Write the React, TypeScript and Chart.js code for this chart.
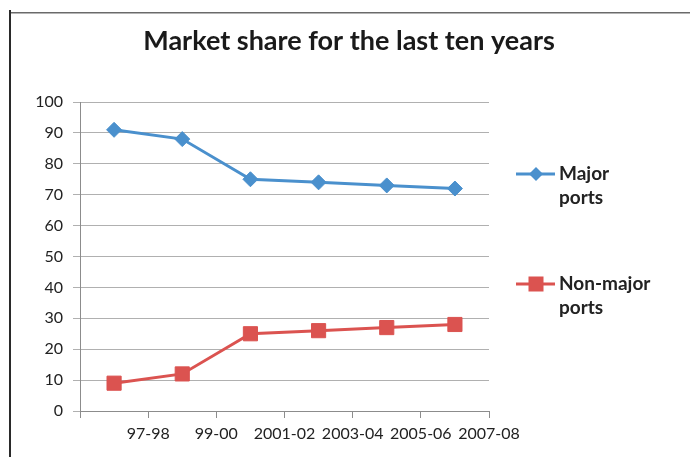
import { useEffect, useRef } from 'react';
import { Chart, registerables } from 'chart.js';

Chart.register(...registerables);

const chartTitle = 'Market share for the last ten years';
const periods = ['97-98', '99-00', '2001-02', '2003-04', '2005-06', '2007-08'];
const majorPorts = [91, 88, 75, 74, 73, 72];
const nonMajorPorts = [9, 12, 25, 26, 27, 28];
const seriesNames = ['Major ports', 'Non-major ports'];
const seriesLegendLines = [['Major', 'ports'], ['Non-major', 'ports']];
const yMin = 0;
const yMax = 100;
const yStep = 10;

const BLUE = '#4A90CD';
const RED = '#DB5350';
const FONT = 'Lato, "Open Sans", sans-serif';

const framePlugin = {
  id: 'frame',
  beforeDraw(chart: any) {
    const { ctx, width, height } = chart;
    ctx.save();
    ctx.fillStyle = '#fff';
    ctx.fillRect(0, 0, width, height);
    ctx.strokeStyle = '#6a6a6a';
    ctx.lineWidth = 1.5;
    ctx.beginPath();
    ctx.moveTo(3, 4.75);
    ctx.lineTo(width, 4.75);
    ctx.stroke();
    ctx.strokeStyle = '#2a2a2a';
    ctx.lineWidth = 2;
    ctx.beginPath();
    ctx.moveTo(2, 2);
    ctx.lineTo(2, height);
    ctx.stroke();
    // title, centred on the whole frame
    ctx.fillStyle = '#1a1a1a';
    ctx.font = `bold 27px ${FONT}`;
    ctx.textAlign = 'center';
    ctx.textBaseline = 'alphabetic';
    ctx.fillText(chartTitle, width / 2, 42);
    ctx.restore();
  },
};

const sideLegendPlugin = {
  id: 'sideLegend',
  afterDraw(chart: any) {
    const { ctx, chartArea } = chart;
    const x0 = chartArea.right + 27;
    const itemTops = [chartArea.top + 72, chartArea.top + 182];
    chart.data.datasets.forEach((ds: any, i: number) => {
      const y = itemTops[i];
      ctx.save();
      ctx.strokeStyle = ds.borderColor;
      ctx.lineWidth = 3;
      ctx.beginPath();
      ctx.moveTo(x0, y);
      ctx.lineTo(x0 + 39, y);
      ctx.stroke();
      ctx.fillStyle = ds.borderColor;
      const cx = x0 + 20;
      if (ds.pointStyle === 'rectRot') {
        const r = 7;
        ctx.beginPath();
        ctx.moveTo(cx - r, y);
        ctx.lineTo(cx, y - r);
        ctx.lineTo(cx + r, y);
        ctx.lineTo(cx, y + r);
        ctx.closePath();
        ctx.fill();
      } else {
        ctx.fillRect(cx - 7.5, y - 7.5, 15, 15);
      }
      ctx.fillStyle = '#222';
      ctx.font = `bold 19px ${FONT}`;
      ctx.textBaseline = 'middle';
      ctx.textAlign = 'left';
      seriesLegendLines[i].forEach((line, j) => {
        ctx.fillText(line, x0 + 43, y + j * 24);
      });
      ctx.restore();
    });
  },
};

export default function App() {
  const ref = useRef<HTMLCanvasElement | null>(null);

  useEffect(() => {
    if (!ref.current) return;
    const chart = new Chart(ref.current, {
      type: 'line',
      data: {
        datasets: [
          {
            label: seriesNames[0],
            data: majorPorts.map((v, i) => ({ x: i + 0.5, y: v })),
            borderColor: BLUE,
            backgroundColor: BLUE,
            borderWidth: 3,
            pointStyle: 'rectRot',
            pointRadius: 7.5,
            pointBorderWidth: 1,
            pointBorderColor: BLUE,
            pointBackgroundColor: BLUE,
            tension: 0,
          },
          {
            label: seriesNames[1],
            data: nonMajorPorts.map((v, i) => ({ x: i + 0.5, y: v })),
            borderColor: RED,
            backgroundColor: RED,
            borderWidth: 3,
            pointStyle: 'rect',
            pointRadius: 10,
            pointBorderWidth: 1,
            pointBorderColor: RED,
            pointBackgroundColor: RED,
            tension: 0,
          },
        ],
      },
      options: {
        animation: false,
        responsive: false,
        layout: { padding: { left: 0, right: 201, top: 94, bottom: 0 } },
        plugins: {
          legend: { display: false },
          tooltip: { enabled: false },
          title: { display: false },
        },
        scales: {
          x: {
            type: 'linear',
            min: 0,
            max: periods.length,
            afterFit: (scale: any) => {
              scale.height = 46;
            },
            border: { display: true, color: '#8c8c8c', width: 1 },
            grid: {
              display: true,
              drawOnChartArea: false,
              drawTicks: true,
              tickLength: 7,
              color: '#8c8c8c',
            },
            ticks: {
              stepSize: 1,
              autoSkip: false,
              maxRotation: 0,
              padding: 6,
              color: '#222',
              font: { family: FONT, size: 16 },
              callback: (v: any) => {
                const n = Number(v);
                return n >= 1 && n <= periods.length ? periods[n - 1] : '';
              },
            },
          },
          y: {
            min: yMin,
            max: yMax,
            afterFit: (scale: any) => {
              scale.width = 72;
            },
            border: { display: true, color: '#8c8c8c', width: 1 },
            grid: {
              color: '#b0b0b0',
              tickLength: 7,
              drawTicks: true,
            },
            ticks: {
              stepSize: yStep,
              padding: 10,
              color: '#222',
              font: { family: FONT, size: 16 },
            },
          },
        },
      },
      plugins: [framePlugin, sideLegendPlugin],
    });
    return () => chart.destroy();
  }, []);

  return (
    <div style={{ width: 682, height: 449 }}>
      <canvas ref={ref} width={682} height={449} style={{ display: 'block' }} />
    </div>
  );
}
